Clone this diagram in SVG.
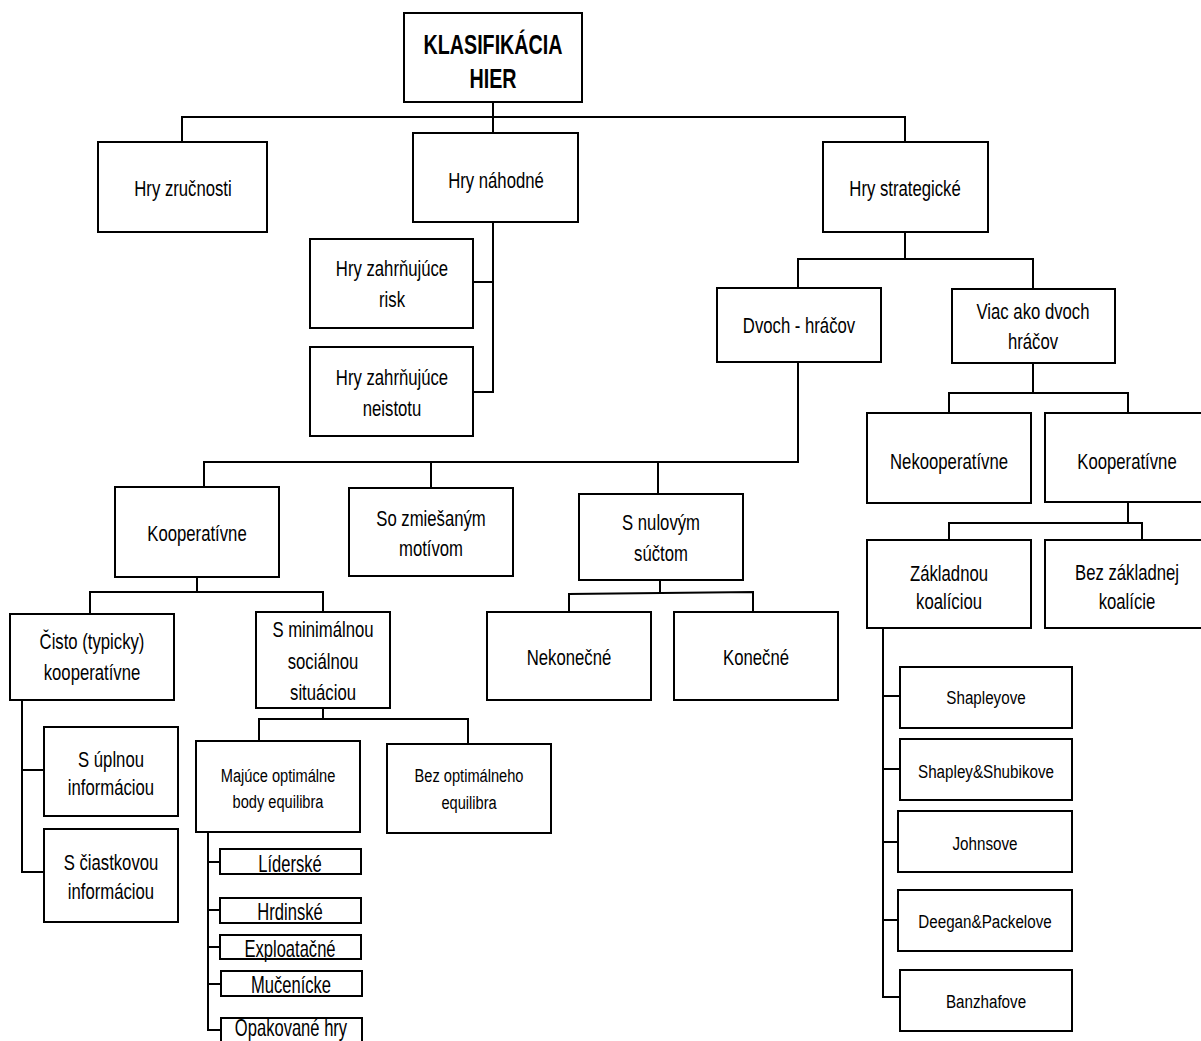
<svg xmlns="http://www.w3.org/2000/svg" width="1201" height="1041" viewBox="0 0 1201 1041">
  <style>
    rect { fill: #fff; stroke: #000; stroke-width: 2; }
    .wire { fill: none; stroke: #000; stroke-width: 2; }
    text { font-family: "Liberation Sans", Arial, sans-serif; fill: #000; text-anchor: middle; }
    .t { font-size: 22px; }
    .s { font-size: 19px; }
    .m { font-size: 23px; }
    .h { font-size: 27px; font-weight: bold; }
  </style>

  <rect x="0" y="0" width="1201" height="1041" style="stroke:none"/>

  <!-- connectors -->
  <g id="connectors">
    <path class="wire" d="M493 102 V133 M182 142 V117 H905 V142"/>
    <path class="wire" d="M493 222 V392 H473 M493 282 H473"/>
    <path class="wire" d="M905 232 V259 M798 288 V259 H1033 V289"/>
    <path class="wire" d="M798 362 V462 H204 V487 M431 462 V488 M658 462 V494"/>
    <path class="wire" d="M1033 363 V393 M949 413 V393 H1128 V413"/>
    <path class="wire" d="M1128 502 V523 M949 540 V523 H1142 V540"/>
    <path class="wire" d="M883 628 V997 H900 M883 696 H900 M883 769 H900 M883 842 H898 M883 920 H898"/>
    <path class="wire" d="M197 577 V592 M90 614 V592 H323 V612"/>
    <path class="wire" d="M22 700 V872 H44 M22 770 H44"/>
    <path class="wire" d="M323 708 V719 M259 741 V719 H468 V744"/>
    <path class="wire" d="M208 832 V1030 H221 M208 862 H220 M208 910 H220 M208 947 H220 M208 984 H221"/>
    <path class="wire" d="M660 580 V593 M569 612 V594 L753 592 V612"/>
  </g>

  <!-- level 0 -->
  <g id="root">
    <rect x="404" y="13" width="178" height="89"/>
    <text class="h" transform="translate(493 54) scale(.73 1)"><tspan x="0">KLASIFIKÁCIA</tspan><tspan x="0" dy="34">HIER</tspan></text>
  </g>

  <!-- level 1 -->
  <g id="hry-zrucnosti">
    <rect x="98" y="142" width="169" height="90"/>
    <text class="t" transform="translate(183 196) scale(.76 1)">Hry zručnosti</text>
  </g>
  <g id="hry-nahodne">
    <rect x="413" y="133" width="165" height="89"/>
    <text class="t" transform="translate(496 188) scale(.76 1)">Hry náhodné</text>
  </g>
  <g id="hry-strategicke">
    <rect x="823" y="142" width="165" height="90"/>
    <text class="t" transform="translate(905 196) scale(.76 1)">Hry strategické</text>
  </g>

  <!-- games of chance -->
  <g id="risk">
    <rect x="310" y="239" width="163" height="89"/>
    <text class="t" transform="translate(392 276) scale(.76 1)"><tspan x="0">Hry zahrňujúce</tspan><tspan x="0" dy="31">risk</tspan></text>
  </g>
  <g id="neistota">
    <rect x="310" y="347" width="163" height="89"/>
    <text class="t" transform="translate(392 385) scale(.76 1)"><tspan x="0">Hry zahrňujúce</tspan><tspan x="0" dy="31">neistotu</tspan></text>
  </g>

  <!-- strategic games -->
  <g id="dvoch-hracov">
    <rect x="717" y="288" width="164" height="74"/>
    <text class="t" transform="translate(799 333) scale(.76 1)">Dvoch - hráčov</text>
  </g>
  <g id="viac-hracov">
    <rect x="952" y="289" width="163" height="74"/>
    <text class="t" transform="translate(1033 319) scale(.76 1)"><tspan x="0">Viac ako dvoch</tspan><tspan x="0" dy="30">hráčov</tspan></text>
  </g>

  <!-- two-player branch -->
  <g id="kooperativne-2">
    <rect x="115" y="487" width="164" height="90"/>
    <text class="t" transform="translate(197 541) scale(.76 1)">Kooperatívne</text>
  </g>
  <g id="zmiesany-motiv">
    <rect x="349" y="488" width="164" height="88"/>
    <text class="t" transform="translate(431 526) scale(.76 1)"><tspan x="0">So zmiešaným</tspan><tspan x="0" dy="30">motívom</tspan></text>
  </g>
  <g id="nulovy-sucet">
    <rect x="579" y="494" width="164" height="86"/>
    <text class="t" transform="translate(661 530) scale(.76 1)"><tspan x="0">S nulovým</tspan><tspan x="0" dy="31">súčtom</tspan></text>
  </g>
  <g id="nekonecne">
    <rect x="487" y="612" width="164" height="88"/>
    <text class="t" transform="translate(569 665) scale(.76 1)">Nekonečné</text>
  </g>
  <g id="konecne">
    <rect x="674" y="612" width="164" height="88"/>
    <text class="t" transform="translate(756 665) scale(.76 1)">Konečné</text>
  </g>

  <!-- cooperative two-player games -->
  <g id="cisto-kooperativne">
    <rect x="10" y="614" width="164" height="86"/>
    <text class="t" transform="translate(92 649) scale(.76 1)"><tspan x="0">Čisto (typicky)</tspan><tspan x="0" dy="31">kooperatívne</tspan></text>
  </g>
  <g id="minimalna-situacia">
    <rect x="256" y="612" width="134" height="96"/>
    <text class="t" transform="translate(323 637) scale(.76 1)"><tspan x="0">S minimálnou</tspan><tspan x="0" dy="32">sociálnou</tspan><tspan x="0" dy="31">situáciou</tspan></text>
  </g>
  <g id="uplna-informacia">
    <rect x="44" y="727" width="134" height="89"/>
    <text class="t" transform="translate(111 767) scale(.76 1)"><tspan x="0">S úplnou</tspan><tspan x="0" dy="28">informáciou</tspan></text>
  </g>
  <g id="ciastkova-informacia">
    <rect x="44" y="829" width="134" height="93"/>
    <text class="t" transform="translate(111 870) scale(.76 1)"><tspan x="0">S čiastkovou</tspan><tspan x="0" dy="29">informáciou</tspan></text>
  </g>
  <g id="majuce-equilibra">
    <rect x="196" y="741" width="164" height="91"/>
    <text class="s" transform="translate(278 782) scale(.77 1)"><tspan x="0">Majúce optimálne</tspan><tspan x="0" dy="26">body equilibra</tspan></text>
  </g>
  <g id="bez-equilibra">
    <rect x="387" y="744" width="164" height="89"/>
    <text class="s" transform="translate(469 782) scale(.77 1)"><tspan x="0">Bez optimálneho</tspan><tspan x="0" dy="27">equilibra</tspan></text>
  </g>

  <!-- equilibrium game types -->
  <g id="liderske">
    <rect x="220" y="849" width="141" height="25"/>
    <text class="m" transform="translate(290 872) scale(.72 1)">Líderské</text>
  </g>
  <g id="hrdinske">
    <rect x="220" y="898" width="141" height="25"/>
    <text class="m" transform="translate(290 920) scale(.72 1)">Hrdinské</text>
  </g>
  <g id="exploatacne">
    <rect x="220" y="935" width="141" height="24"/>
    <text class="m" transform="translate(290 957) scale(.72 1)">Exploatačné</text>
  </g>
  <g id="mucenicke">
    <rect x="221" y="971" width="141" height="25"/>
    <text class="m" transform="translate(291 993) scale(.72 1)">Mučenícke</text>
  </g>
  <g id="opakovane-hry">
    <rect x="221" y="1018" width="141" height="30"/>
    <text class="m" transform="translate(291 1036) scale(.72 1)">Opakované hry</text>
  </g>

  <!-- more than two players -->
  <g id="nekooperativne">
    <rect x="867" y="413" width="164" height="90"/>
    <text class="t" transform="translate(949 469) scale(.76 1)">Nekooperatívne</text>
  </g>
  <g id="kooperativne-n">
    <rect x="1045" y="413" width="164" height="89"/>
    <text class="t" transform="translate(1127 469) scale(.76 1)">Kooperatívne</text>
  </g>
  <g id="zakladna-koalicia">
    <rect x="867" y="540" width="164" height="88"/>
    <text class="t" transform="translate(949 581) scale(.76 1)"><tspan x="0">Základnou</tspan><tspan x="0" dy="28">koalíciou</tspan></text>
  </g>
  <g id="bez-koalicie">
    <rect x="1045" y="540" width="164" height="88"/>
    <text class="t" transform="translate(1127 580) scale(.76 1)"><tspan x="0">Bez základnej</tspan><tspan x="0" dy="29">koalície</tspan></text>
  </g>

  <!-- solution concepts -->
  <g id="shapley">
    <rect x="900" y="667" width="172" height="61"/>
    <text class="s" transform="translate(986 704) scale(.8 1)">Shapleyove</text>
  </g>
  <g id="shapley-shubik">
    <rect x="900" y="739" width="172" height="61"/>
    <text class="s" transform="translate(986 778) scale(.8 1)">Shapley&amp;Shubikove</text>
  </g>
  <g id="johnson">
    <rect x="898" y="811" width="174" height="61"/>
    <text class="s" transform="translate(985 850) scale(.8 1)">Johnsove</text>
  </g>
  <g id="deegan-packel">
    <rect x="898" y="890" width="174" height="61"/>
    <text class="s" transform="translate(985 928) scale(.8 1)">Deegan&amp;Packelove</text>
  </g>
  <g id="banzhaf">
    <rect x="900" y="970" width="172" height="61"/>
    <text class="s" transform="translate(986 1008) scale(.8 1)">Banzhafove</text>
  </g>
</svg>
